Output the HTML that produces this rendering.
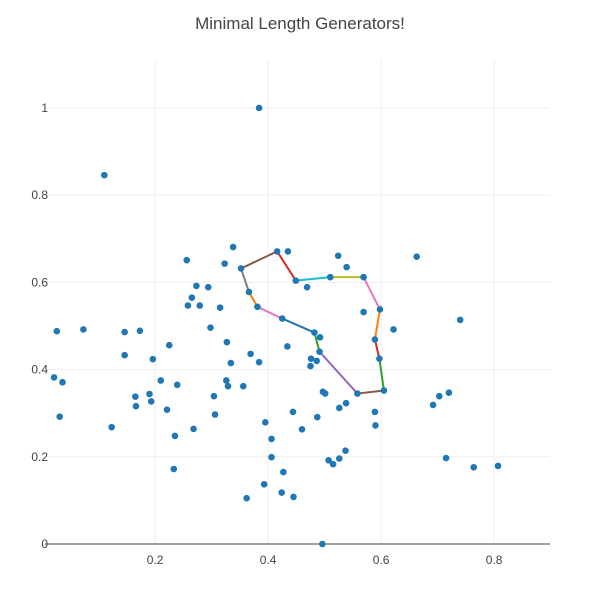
<!DOCTYPE html>
<html><head><meta charset="utf-8"><style>
body{margin:0;background:#fff;}
svg{font-family:"Liberation Sans",sans-serif;}
</style></head><body>
<svg id="chart" width="600" height="600">
<rect width="600" height="600" fill="#fff"/>
<text x="300" y="29" text-anchor="middle" font-size="17" fill="#444">Minimal Length Generators!</text>
<g id="grid"></g><g id="lines"></g><g id="pts"></g><g id="ticks"></g>
</svg>
<script>
const xTicks=[0.2,0.4,0.6,0.8];
const yTicks=[0,0.2,0.4,0.6,0.8,1];
const ptsX=[0.110,0.384,0.026,0.073,0.146,0.173,0.146,0.196,0.225,0.021,0.036,0.031,0.123,0.165,0.166,0.190,0.193,0.210,0.221,0.239,0.235,0.233,0.268,0.256,0.273,0.265,0.258,0.279,0.294,0.298,0.315,0.323,0.338,0.327,0.334,0.326,0.329,0.304,0.306,0.356,0.369,0.384,0.362,0.395,0.406,0.406,0.427,0.393,0.424,0.434,0.435,0.469,0.524,0.539,0.663,0.569,0.622,0.492,0.476,0.486,0.475,0.497,0.501,0.538,0.526,0.444,0.487,0.460,0.589,0.590,0.692,0.703,0.720,0.537,0.507,0.515,0.526,0.445,0.496,0.715,0.764,0.807,0.740];
const ptsY=[0.846,1.000,0.488,0.492,0.486,0.489,0.433,0.424,0.456,0.382,0.371,0.292,0.268,0.338,0.316,0.344,0.327,0.375,0.308,0.365,0.248,0.172,0.264,0.651,0.592,0.565,0.547,0.547,0.589,0.496,0.542,0.643,0.681,0.463,0.415,0.375,0.362,0.339,0.297,0.362,0.436,0.417,0.105,0.279,0.241,0.199,0.165,0.137,0.118,0.453,0.671,0.589,0.661,0.635,0.659,0.532,0.492,0.474,0.425,0.420,0.408,0.349,0.345,0.323,0.312,0.303,0.291,0.263,0.303,0.272,0.319,0.339,0.347,0.214,0.192,0.183,0.196,0.108,0.000,0.197,0.176,0.179,0.514];
const pathX=[0.352,0.416,0.449,0.510,0.569,0.598,0.589,0.597,0.605,0.558,0.491,0.482,0.425,0.381,0.366,0.352];
const pathY=[0.632,0.671,0.604,0.612,0.612,0.538,0.469,0.425,0.352,0.345,0.441,0.485,0.517,0.544,0.578,0.632];
const segColors=["#8c564b","#d62728","#17becf","#bcbd22","#e377c2","#ff7f0e","#d62728","#2ca02c","#8c564b","#9467bd","#2ca02c","#1f77b4","#e377c2","#ff7f0e","#7f7f7f"];
const NS="http://www.w3.org/2000/svg";
const X0=45,X1=550,Y0=544,Y1=60,xmin=0.005,xmax=0.899,ymin=0,ymax=1.11;
const sx=v=>X0+(v-xmin)/(xmax-xmin)*(X1-X0);
const sy=v=>Y0-(v-ymin)/(ymax-ymin)*(Y0-Y1);
function mk(t,a,p){const e=document.createElementNS(NS,t);for(const k in a)e.setAttribute(k,a[k]);p.appendChild(e);return e;}
const grid=document.getElementById('grid'),ticks=document.getElementById('ticks');
xTicks.forEach(t=>{
 const g=mk('line',{x1:sx(t),x2:sx(t),y1:Y1,y2:Y0,stroke:'#eee','stroke-width':1},grid);
 
 
 const l=mk('text',{x:sx(t),y:Y0+20,'text-anchor':'middle','font-size':12,fill:'#444'},ticks);
 l.textContent=t;
 
 
});
yTicks.forEach(t=>{
 if(t>0){const g=mk('line',{x1:X0,x2:X1,y1:sy(t),y2:sy(t),stroke:'#eee','stroke-width':1},grid);
 
 }
 const l=mk('text',{x:48,y:sy(t)+4,'text-anchor':'end','font-size':12,fill:'#444'},ticks);
 l.textContent=t;
 
 
});
const ax=mk('line',{x1:X0,x2:X1,y1:Y0,y2:Y0,stroke:'#444','stroke-width':1},grid);


const lines=document.getElementById('lines');
for(let i=0;i<pathX.length-1;i++){
 const s=mk('line',{x1:sx(pathX[i]),y1:sy(pathY[i]),x2:sx(pathX[i+1]),y2:sy(pathY[i+1]),stroke:segColors[i],'stroke-width':2},lines);
 
 
}
const pts=document.getElementById('pts');
const allX=ptsX.concat(pathX.slice(0,-1)),allY=ptsY.concat(pathY.slice(0,-1));
allX.forEach((x,i)=>{
 const c=mk('circle',{cx:sx(x),cy:sy(allY[i]),r:3.3,fill:'#1f77b4'},pts);
 
 
});
</script>
</body></html>
